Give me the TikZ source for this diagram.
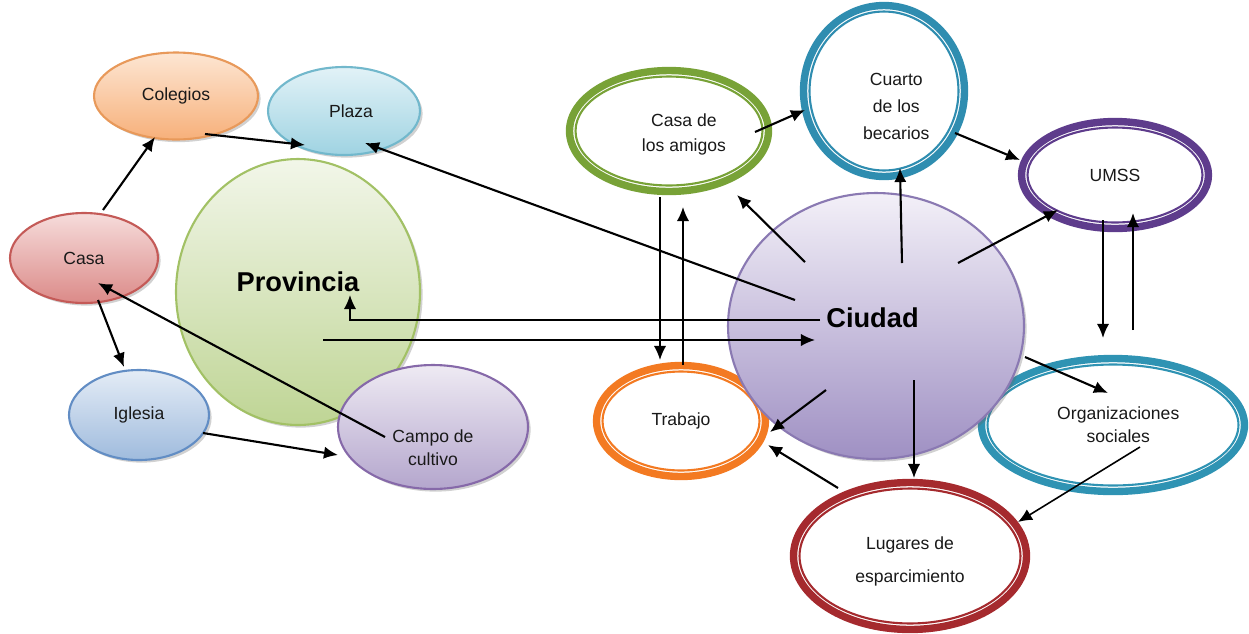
\documentclass[tikz,border=0pt]{standalone}
\usepackage{fontspec}
\setmainfont{Liberation Sans}
\usetikzlibrary{shapes.geometric,arrows.meta,shadows,calc}
\definecolor{colT}{HTML}{FDE6D3}\definecolor{colB}{HTML}{F7B07A}\definecolor{colD}{HTML}{E8995A}
\definecolor{plaT}{HTML}{E2F2F7}\definecolor{plaB}{HTML}{9FD3E2}\definecolor{plaD}{HTML}{72B8CC}
\definecolor{casT}{HTML}{F6DCDB}\definecolor{casB}{HTML}{DB8A88}\definecolor{casD}{HTML}{C45A57}
\definecolor{iglT}{HTML}{E4ECF6}\definecolor{iglB}{HTML}{9FBBDD}\definecolor{iglD}{HTML}{628DC4}
\definecolor{camT}{HTML}{EEEAF3}\definecolor{camB}{HTML}{B4A6CD}\definecolor{camD}{HTML}{8669A9}
\definecolor{proT}{HTML}{F2F6E9}\definecolor{proB}{HTML}{BFD595}\definecolor{proD}{HTML}{A2C165}
\definecolor{ciuT}{HTML}{F3F0F8}\definecolor{ciuB}{HTML}{9F90C3}\definecolor{ciuD}{HTML}{8A79B2}
\definecolor{rgreen}{HTML}{78A237}\definecolor{rblue}{HTML}{2F8DB0}\definecolor{rpurple}{HTML}{5E3C8C}
\definecolor{rteal}{HTML}{2F93B3}\definecolor{rorange}{HTML}{F37A22}\definecolor{rred}{HTML}{A52A2E}
\begin{document}
\begin{tikzpicture}[x=0.02cm,y=-0.02cm,
  fe/.style n args={3}{ellipse, inner sep=0pt, draw=#1, line width=1.2pt,
     top color=#2, bottom color=#3,
     drop shadow={shadow xshift=1.5pt,shadow yshift=-1.5pt,opacity=0.3,fill=black!60}},
  ring/.style={ellipse, inner sep=0pt, draw=#1, line width=4.2pt, fill=white},
  inring/.style={draw=#1, line width=1.2pt},
  txt/.style={font=\fontsize{10}{13}\selectfont, align=center, text=black!90},
  big/.style={font=\fontsize{15.5}{18}\selectfont\bfseries, text=black},
  arr/.style={-{Latex[length=8pt,width=7pt]}, line width=1.2pt, black},
  tarr/.style={-{Latex[length=8pt,width=7pt]}, line width=0.9pt, black}]
\useasboundingbox (0,0) rectangle (1249,633);
% left cluster
\node[fe={proD}{proT}{proB}, minimum width=4.88cm, minimum height=5.32cm,
  label={[big,yshift=6pt]center:Provincia}] (provincia) at (298,292) {};
\node[fe={colD}{colT}{colB}, minimum width=3.28cm, minimum height=1.74cm,
  label={[txt]center:Colegios}] (colegios) at (176,96) {};
\node[fe={plaD}{plaT}{plaB}, minimum width=3.04cm, minimum height=1.76cm,
  label={[txt,xshift=4pt]center:Plaza}] (plaza) at (344,111) {};
\node[fe={casD}{casT}{casB}, minimum width=2.96cm, minimum height=1.80cm,
  label={[txt]center:Casa}] (casa) at (84,258) {};
\node[fe={iglD}{iglT}{iglB}, minimum width=2.80cm, minimum height=1.80cm,
  label={[txt]center:Iglesia}] (iglesia) at (139,415) {};
\node[fe={camD}{camT}{camB}, minimum width=3.80cm, minimum height=2.48cm,
  label={[txt,yshift=-12pt]center:Campo de\\cultivo}] (campo) at (433,427) {};
% rings
\node[ring=rgreen, minimum width=3.98cm, minimum height=2.42cm,
  label={[txt,xshift=8.5pt,yshift=-2pt,font=\fontsize{10}{14}\selectfont]center:Casa de\\los amigos}] (amigos) at (669,131) {};
\draw[inring=rgreen] (amigos.center) ellipse [x radius=1.87cm, y radius=1.09cm];
\node[ring=rblue, minimum width=3.22cm, minimum height=3.42cm,
  label={[txt,xshift=7pt,yshift=-9pt,font=\fontsize{10}{15.3}\selectfont]center:Cuarto\\de los\\becarios}] (cuarto) at (884,91) {};
\draw[inring=rblue] (cuarto.center) ellipse [x radius=1.49cm, y radius=1.59cm];
\node[ring=rpurple, minimum width=3.74cm, minimum height=2.14cm,
  label={[txt]center:UMSS}] (umss) at (1115,175) {};
\draw[inring=rpurple] (umss.center) ellipse [x radius=1.75cm, y radius=0.95cm];
\node[ring=rteal, minimum width=5.26cm, minimum height=2.66cm,
  label={[txt,xshift=3pt]center:Organizaciones\\sociales}] (org) at (1113,425) {};
\draw[inring=rteal] (org.center) ellipse [x radius=2.51cm, y radius=1.21cm];
\node[ring=rorange, minimum width=3.38cm, minimum height=2.22cm,
  label={[txt]center:Trabajo}] (trabajo) at (681,421) {};
\draw[inring=rorange] (trabajo.center) ellipse [x radius=1.57cm, y radius=0.99cm];
\node[ring=rred, minimum width=4.66cm, minimum height=2.94cm,
  label={[txt,yshift=-3pt,font=\fontsize{10}{18.7}\selectfont]center:Lugares de\\esparcimiento}] (lugares) at (910,556) {};
\draw[inring=rred] (lugares.center) ellipse [x radius=2.21cm, y radius=1.35cm];
% city (in front of the rings it touches)
\node[fe={ciuD}{ciuT}{ciuB}, minimum width=5.92cm, minimum height=5.32cm,
  label={[big,yshift=4.5pt,xshift=-2pt]center:Ciudad}] (ciudad) at (876,326) {};
% connectors, left
\draw[arr] ($(casa)+(19,-48)$) -- ($(colegios)+(-21,41)$);
\draw[arr] ($(colegios)+(29,38)$) -- ($(plaza)+(-39,34)$);
\draw[arr] ($(casa)+(14,42)$) -- ($(iglesia)+(-15,-48)$);
\draw[arr] ($(iglesia)+(64,18)$) -- ($(campo)+(-95,28)$);
\draw[arr] ($(campo)+(-48,10)$) -- ($(casa)+(14,25)$);
% connectors between city and province
\draw[arr] ($(ciudad)+(-81,-26)$) -- ($(plaza)+(21,32)$);
\draw[tarr] ($(ciudad)+(-56,-6)$) -| ($(provincia)+(52,3)$);
\draw[tarr] ($(provincia)+(25,48)$) -- ($(ciudad)+(-61,14)$);
% connectors, right
\draw[tarr] ($(amigos)+(-9,66)$) -- ($(trabajo)+(-21,-61)$);
\draw[tarr] ($(trabajo)+(2,-56)$) -- ($(amigos)+(14,76)$);
\draw[arr] ($(ciudad)+(-71,-64)$) -- ($(amigos)+(68,64)$);
\draw[arr] ($(ciudad)+(26,-63)$) -- ($(cuarto)+(16,77)$);
\draw[arr] ($(amigos)+(86,1)$) -- ($(cuarto)+(-79,19)$);
\draw[arr] ($(cuarto)+(71,42)$) -- ($(umss)+(-95,-15)$);
\draw[arr] ($(ciudad)+(82,-63)$) -- ($(umss)+(-57,35)$);
\draw[arr] ($(umss)+(-12,45)$) -- ($(org)+(-10,-87)$);
\draw[arr] ($(org)+(20,-95)$) -- ($(umss)+(18,38)$);
\draw[arr] ($(ciudad)+(149,31)$) -- ($(org)+(-5,-32)$);
\draw[arr] ($(ciudad)+(-50,64)$) -- ($(trabajo)+(89,11)$);
\draw[tarr] ($(ciudad)+(38,54)$) -- ($(lugares)+(4,-78)$);
\draw[arr] ($(lugares)+(-72,-68)$) -- ($(trabajo)+(87,24)$);
\draw[tarr] ($(org)+(27,22)$) -- ($(lugares)+(108,-34)$);
\end{tikzpicture}
\end{document}
